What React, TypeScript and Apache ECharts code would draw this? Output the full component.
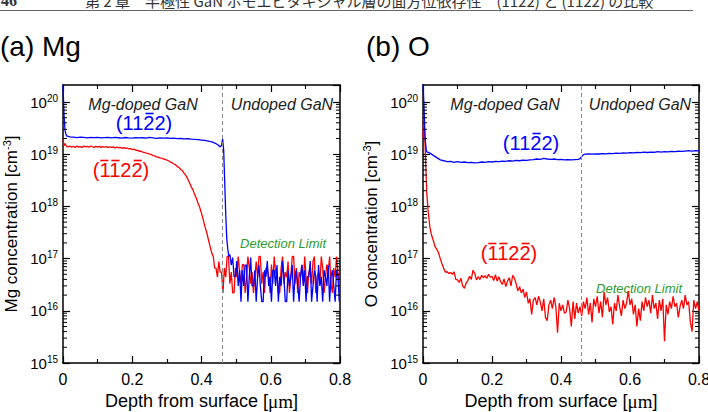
import React, { useEffect, useRef } from "react";
import * as echarts from "echarts";

const SANS = "'Liberation Sans', Arial, Helvetica, sans-serif";
const SERIF = "'Liberation Serif', 'Times New Roman', serif";
const CJK = "'Noto Sans CJK JP', 'Noto Sans CJK SC', sans-serif";

// Axis extents and tick labels
const DEPTH_MIN = 0;
const DEPTH_MAX = 0.8;
const DEPTH_TICKS = [0, 0.2, 0.4, 0.6, 0.8];
const CONC_MIN = 1e15;
const CONC_MAX = 2.12e20;
const DECADE_EXPONENTS = [15, 16, 17, 18, 19, 20];
const MINOR_MANTISSAS = [2, 3, 4, 5, 6, 7, 8, 9];
const INTERFACE_DEPTH = 0.46;

// ---- (a) Mg profiles ----
// (11-22): smooth part as [depth µm, conc cm^-3]
const MG_1122_HEAD: [number, number][] = [
  [0, 2.1e20], [0.003, 5.5e19], [0.006, 2.8e19], [0.01, 2.25e19], [0.02, 2.15e19],
  [0.03, 2.12e19], [0.04, 2.08e19], [0.05, 2.12e19], [0.06, 2.1e19], [0.07, 2.06e19],
  [0.08, 2.1e19], [0.09, 2.08e19], [0.1, 2.1e19], [0.11, 2.05e19], [0.12, 2.08e19],
  [0.13, 2.1e19], [0.14, 2.06e19], [0.15, 2.1e19], [0.16, 2.07e19], [0.17, 2.04e19],
  [0.18, 2.09e19], [0.19, 2.06e19], [0.2, 2.04e19], [0.21, 2.08e19], [0.22, 2.05e19],
  [0.23, 2.07e19], [0.24, 2.03e19], [0.25, 2.1e19], [0.26, 2.05e19], [0.27, 2.02e19],
  [0.28, 2.06e19], [0.29, 2.03e19], [0.3, 2.05e19], [0.31, 2.01e19], [0.32, 2.03e19],
  [0.33, 1.99e19], [0.34, 2.0e19], [0.35, 1.97e19], [0.36, 1.98e19], [0.37, 1.94e19],
  [0.38, 1.93e19], [0.39, 1.9e19], [0.4, 1.87e19], [0.41, 1.84e19], [0.42, 1.78e19],
  [0.43, 1.72e19], [0.44, 1.62e19], [0.448, 1.5e19], [0.454, 1.38e19], [0.458, 1.5e19],
  [0.461, 1.95e19], [0.464, 1.2e19], [0.467, 3e18], [0.47, 7e17], [0.473, 2.4e17],
  [0.476, 1.5e17], [0.479, 1.1e17],
];
// (11-22): undoped-side counts near the detection limit, every 0.004 µm from 0.482 µm
const MG_1122_TAIL_START = 0.482;
const MG_1122_TAIL_STEP = 0.004;
const MG_1122_TAIL = [
  1.2e17, 7.5e16, 1.05e17, 4.5e16, 4.5e16, 9.0e16, 3.0e16, 6.0e16, 1.5e16, 6.0e16,
  3.0e16, 7.5e16, 7.5e16, 1.5e16, 4.5e16, 1.05e17, 3.0e16, 3.0e16, 6.0e16, 1.5e16,
  4.5e16, 7.5e16, 3.0e16, 1.5e16, 1.5e16, 6.0e16, 4.5e16, 9.0e16, 3.0e16, 4.5e16,
  1.5e16, 6.0e16, 6.0e16, 3.0e16, 7.5e16, 1.5e16, 4.5e16, 3.0e16, 9.0e16, 4.5e16,
  1.5e16, 1.5e16, 6.0e16, 3.0e16, 4.5e16, 7.5e16, 1.5e16, 4.5e16, 6.0e16, 3.0e16,
  1.5e16, 4.5e16, 7.5e16, 3.0e16, 6.0e16, 1.5e16, 4.5e16, 4.5e16, 9.0e16, 1.5e16,
  3.0e16, 6.0e16, 4.5e16, 1.5e16, 7.5e16, 3.0e16, 4.5e16, 1.5e16, 6.0e16, 4.5e16,
  3.0e16, 7.5e16, 1.5e16, 4.5e16, 6.0e16, 3.0e16, 1.5e16, 6.0e16, 4.5e16, 1.5e16,
];

// (-1-12-2): roll-off part
const MG_M1122_HEAD: [number, number][] = [
  [0, 1.9e19], [0.003, 1.45e19], [0.006, 1.6e19], [0.01, 1.42e19], [0.015, 1.38e19],
  [0.02, 1.44e19], [0.025, 1.36e19], [0.03, 1.42e19], [0.035, 1.35e19], [0.04, 1.43e19],
  [0.045, 1.37e19], [0.05, 1.41e19], [0.055, 1.34e19], [0.06, 1.44e19], [0.065, 1.38e19],
  [0.07, 1.42e19], [0.075, 1.36e19], [0.08, 1.43e19], [0.085, 1.39e19], [0.09, 1.35e19],
  [0.095, 1.42e19], [0.1, 1.37e19], [0.105, 1.41e19], [0.11, 1.35e19], [0.115, 1.4e19],
  [0.12, 1.36e19], [0.125, 1.41e19], [0.13, 1.34e19], [0.135, 1.39e19], [0.14, 1.35e19],
  [0.145, 1.38e19], [0.15, 1.32e19], [0.155, 1.37e19], [0.16, 1.33e19], [0.165, 1.36e19],
  [0.17, 1.3e19], [0.175, 1.34e19], [0.18, 1.29e19], [0.185, 1.32e19], [0.19, 1.26e19],
  [0.195, 1.28e19], [0.2, 1.23e19], [0.205, 1.25e19], [0.21, 1.19e19], [0.215, 1.2e19],
  [0.22, 1.14e19], [0.225, 1.15e19], [0.23, 1.1e19], [0.235, 1.09e19], [0.24, 1.05e19],
  [0.245, 1.04e19], [0.25, 1.0e19], [0.255, 9.9e18], [0.26, 9.4e18], [0.265, 9.3e18],
  [0.27, 8.9e18], [0.275, 8.8e18], [0.28, 8.5e18], [0.285, 8.4e18], [0.29, 8.1e18],
  [0.295, 8.0e18], [0.3, 7.7e18], [0.305, 7.5e18], [0.31, 7.1e18], [0.315, 6.9e18],
  [0.32, 6.5e18], [0.325, 6.3e18], [0.33, 5.8e18], [0.335, 5.6e18], [0.34, 5.1e18],
  [0.345, 4.8e18], [0.35, 4.3e18], [0.355, 3.9e18], [0.36, 3.4e18], [0.365, 2.9e18],
  [0.37, 2.4e18], [0.375, 2.1e18], [0.38, 1.7e18], [0.385, 1.45e18], [0.39, 1.15e18],
  [0.395, 9.5e17], [0.4, 7.4e17], [0.405, 5.6e17], [0.41, 4.1e17], [0.415, 3.2e17],
  [0.42, 2.3e17], [0.425, 1.7e17], [0.43, 1.26e17],
];
// (-1-12-2): counts near the detection limit, every 0.004 µm from 0.434 µm
const MG_M1122_TAIL_START = 0.434;
const MG_M1122_TAIL_STEP = 0.004;
const MG_M1122_TAIL = [
  1.1e17, 6.6e16, 6.6e16, 4.4e16, 8.8e16, 5.5e16, 5.5e16, 2.2e16, 6.6e16, 4.4e16,
  1.1e17, 1.1e17, 3.3e16, 5.5e16, 2.2e16, 2.2e16, 6.6e16, 4.4e16, 1.1e17, 5.5e16,
  3.3e16, 7.7e16, 7.7e16, 2.2e16, 4.4e16, 1.1e17, 6.6e16, 3.3e16, 5.5e16, 2.2e16,
  4.4e16, 8.8e16, 4.4e16, 1.1e17, 1.1e17, 3.3e16, 5.5e16, 2.2e16, 6.6e16, 6.6e16,
  4.4e16, 2.2e16, 7.7e16, 3.3e16, 1.1e17, 5.5e16, 4.4e16, 2.2e16, 2.2e16, 6.6e16,
  1.1e17, 3.3e16, 5.5e16, 4.4e16, 8.8e16, 2.2e16, 4.4e16, 1.1e17, 1.1e17, 3.3e16,
  6.6e16, 2.2e16, 5.5e16, 4.4e16, 7.7e16, 3.3e16, 1.1e17, 4.4e16, 2.2e16, 5.5e16,
  6.6e16, 3.3e16, 8.8e16, 1.1e17, 2.2e16, 4.4e16, 5.5e16, 3.3e16, 1.1e17, 6.6e16,
  2.2e16, 4.4e16, 7.7e16, 5.5e16, 1.1e17, 3.3e16, 2.2e16, 6.6e16, 4.4e16, 1.1e17,
  5.5e16, 3.3e16,
];

// ---- (b) O profiles ----
const O_1122: [number, number][] = [
  [0, 2.5e20], [0.003, 8e19], [0.006, 2e19], [0.01, 1.12e19], [0.02, 1.05e19],
  [0.03, 9.5e18], [0.04, 8.6e18], [0.05, 7.8e18], [0.06, 7.5e18], [0.07, 7.2e18],
  [0.08, 7.3e18], [0.09, 7.0e18], [0.1, 7.2e18], [0.11, 7.0e18], [0.12, 7.1e18],
  [0.13, 6.9e18], [0.14, 7.0e18], [0.15, 6.8e18], [0.16, 6.9e18], [0.17, 7.1e18],
  [0.18, 7.0e18], [0.19, 7.2e18], [0.2, 7.1e18], [0.21, 7.3e18], [0.22, 7.2e18],
  [0.23, 7.4e18], [0.24, 7.3e18], [0.25, 7.5e18], [0.26, 7.4e18], [0.27, 7.6e18],
  [0.28, 7.5e18], [0.29, 7.7e18], [0.3, 7.6e18], [0.31, 7.8e18], [0.32, 7.9e18],
  [0.33, 8.1e18], [0.34, 8.0e18], [0.35, 8.3e18], [0.36, 8.1e18], [0.37, 8.0e18],
  [0.38, 8.1e18], [0.39, 7.9e18], [0.4, 8.0e18], [0.41, 7.8e18], [0.42, 7.9e18],
  [0.43, 7.8e18], [0.44, 7.9e18], [0.45, 8.0e18], [0.455, 8.2e18], [0.46, 9.0e18],
  [0.465, 9.8e18], [0.47, 1.0e19], [0.48, 1.01e19], [0.49, 1.0e19], [0.5, 1.02e19],
  [0.51, 1.01e19], [0.52, 1.03e19], [0.53, 1.02e19], [0.54, 1.04e19], [0.55, 1.03e19],
  [0.56, 1.05e19], [0.57, 1.04e19], [0.58, 1.06e19], [0.59, 1.05e19], [0.6, 1.07e19],
  [0.61, 1.06e19], [0.62, 1.08e19], [0.63, 1.07e19], [0.64, 1.1e19], [0.65, 1.08e19],
  [0.66, 1.1e19], [0.67, 1.09e19], [0.68, 1.12e19], [0.69, 1.1e19], [0.7, 1.12e19],
  [0.71, 1.11e19], [0.72, 1.13e19], [0.73, 1.12e19], [0.74, 1.14e19], [0.75, 1.13e19],
  [0.76, 1.15e19], [0.77, 1.17e19], [0.78, 1.15e19], [0.79, 1.17e19], [0.8, 1.16e19],
];

const O_M1122_HEAD: [number, number][] = [
  [0, 2.0e19], [0.002, 6.0e19], [0.005, 2.5e19], [0.008, 6e18], [0.011, 1.8e18],
  [0.015, 8e17], [0.02, 4e17], [0.025, 2.8e17], [0.03, 2.2e17], [0.035, 1.7e17],
  [0.04, 1.5e17], [0.045, 1.3e17], [0.05, 1.0e17], [0.055, 8e16], [0.06, 6.5e16],
  [0.065, 5.5e16], [0.07, 5.6e16], [0.075, 5.2e16], [0.08, 5.4e16], [0.085, 5.0e16],
  [0.09, 5.6e16], [0.095, 4.0e16],
];
const O_M1122_TAIL_START = 0.1;
const O_M1122_TAIL_STEP = 0.005;
const O_M1122_TAIL = [
  3.9e16, 3.5e16, 4.2e16, 3.0e16, 2.7e16, 3.4e16, 3.8e16, 4.6e16, 4.0e16, 6.0e16,
  5.2e16, 3.9e16, 4.5e16, 4.0e16, 4.8e16, 4.3e16, 4.7e16, 4.2e16, 5.0e16, 4.4e16,
  4.6e16, 3.8e16, 4.9e16, 3.7e16, 4.5e16, 3.6e16, 3.2e16, 4.1e16, 2.9e16, 3.7e16,
  4.3e16, 3.0e16, 4.8e16, 4.2e16, 3.3e16, 2.4e16, 2.9e16, 2.2e16, 2.6e16, 1.8e16,
  2.3e16, 1.4e16, 1.7e16, 8.5e15, 1.6e16, 1.8e16, 1.3e16, 1.9e16, 1.5e16, 1.0e16,
  1.7e16, 7.5e15, 6.5e15, 1.3e16, 1.6e16, 1.1e16, 1.8e16, 1.2e16, 3.8e15, 1.4e16,
  1.0e16, 1.3e16, 9.0e15, 9.5e15, 1.6e16, 1.1e16, 5.0e15, 1.5e16, 7.0e15, 1.4e16,
  9.0e15, 1.2e16, 8.0e15, 1.5e16, 1.1e16, 1.8e16, 8.5e15, 1.4e16, 6.0e15, 1.7e16,
  1.2e16, 1.9e16, 9.0e15, 1.5e16, 7.5e15, 2.3e16, 1.3e16, 1.8e16, 9.5e15, 1.2e16,
  5.5e15, 1.4e16, 1.0e16, 2.0e16, 1.2e16, 8.0e15, 1.6e16, 1.1e16, 1.4e16, 2.4e16,
  1.3e16, 1.7e16, 8.5e15, 1.3e16, 5.0e15, 1.1e16, 6.5e15, 1.5e16, 1.0e16, 1.8e16,
  1.2e16, 1.6e16, 9.0e15, 2.0e16, 1.1e16, 1.4e16, 7.0e15, 1.6e16, 1.0e16, 1.7e16,
  2.6e15, 1.3e16, 8.5e15, 1.5e16, 1.1e16, 1.9e16, 1.2e16, 1.4e16, 7.5e15, 1.2e16,
  1.6e16, 1.1e16, 2.0e16, 1.3e16, 1.5e16, 6.0e15, 4.0e15, 1.6e16, 1.1e16, 1.5e16,
  1.0e16,
];

const BLUE = "#0000ff";
const RED = "#ff0000";
const GREEN = "#2e9a2e";

const withTail = (head: [number, number][], start: number, step: number, tail: number[]) =>
  head.concat(tail.map((v, i) => [start + i * step, v] as [number, number]));

const minorTickData = DECADE_EXPONENTS.slice(0, -1).flatMap((e) =>
  MINOR_MANTISSAS.map((m) => [0, m * Math.pow(10, e)])
);

const GRIDS = [
  { left: 63, top: 85, width: 277, height: 278, containLabel: false, outerBoundsMode: "none" },
  { left: 423, top: 85, width: 276, height: 278, containLabel: false, outerBoundsMode: "none" },
];

const axisLine = { show: true, onZero: false, lineStyle: { color: "#000", width: 1.5 } };
const tickStyle = { color: "#000", width: 1.2 };

function xAxes(gridIndex: number) {
  const base = {
    type: "value" as const,
    gridIndex,
    min: DEPTH_MIN,
    max: DEPTH_MAX,
    interval: 0.2,
    axisLine,
    axisTick: { show: true, inside: true, length: 7, lineStyle: tickStyle },
    minorTick: { show: true, splitNumber: 2, length: 4, lineStyle: tickStyle },
    splitLine: { show: false },
    minorSplitLine: { show: false },
  };
  return [
    {
      ...base,
      position: "bottom",
      axisLabel: {
        show: true,
        color: "#000",
        fontSize: 16,
        fontFamily: SANS,
        margin: 8,
        showMinLabel: true,
        showMaxLabel: true,
        formatter: (v: number) => {
          const t = DEPTH_TICKS.find((d) => Math.abs(d - v) < 1e-9);
          return t === undefined ? "" : String(t);
        },
      },
      name: "{t|Depth from surface [}{mu|μm}{t|]}",
      nameLocation: "middle",
      nameGap: 28,
      nameTextStyle: {
        rich: {
          t: { fontSize: 18, fontFamily: SANS, color: "#000", lineHeight: 20 },
          mu: { fontSize: 19, fontFamily: SERIF, color: "#000", lineHeight: 20 },
        },
      },
    },
    { ...base, position: "top", axisLabel: { show: false } },
  ];
}

function yAxes(gridIndex: number, element: string) {
  const base = {
    type: "log" as const,
    logBase: 10,
    gridIndex,
    min: CONC_MIN,
    max: CONC_MAX,
    axisLine,
    axisTick: { show: true, inside: true, length: 7, lineStyle: tickStyle },
    minorTick: { show: false },
    splitLine: { show: false },
  };
  return [
    {
      ...base,
      position: "left",
      axisLabel: {
        show: true,
        margin: 5,
        showMaxLabel: false,
        formatter: (v: number) => {
          const e = Math.log10(v);
          const exp = DECADE_EXPONENTS.find((d) => Math.abs(d - e) < 1e-6);
          return exp === undefined ? "" : `{b|10}{s|${exp}}`;
        },
        rich: {
          b: { fontSize: 15, fontFamily: SANS, color: "#000", lineHeight: 18 },
          s: { fontSize: 10, fontFamily: SANS, color: "#000", lineHeight: 10, verticalAlign: "top" },
        },
      },
      name: `{b|${element} concentration [cm}{s|-3}{b|]}`,
      nameLocation: "middle",
      nameRotate: 90,
      nameGap: 42,
      nameTextStyle: {
        rich: {
          b: { fontSize: 17, fontFamily: SANS, color: "#000", lineHeight: 20 },
          s: { fontSize: 11, fontFamily: SANS, color: "#000", lineHeight: 11, verticalAlign: "top" },
        },
      },
    },
    { ...base, position: "right", axisLabel: { show: false } },
  ];
}

function profileLine(data: [number, number][], color: string, axisIdx: number, z: number) {
  return {
    type: "line",
    xAxisIndex: axisIdx,
    yAxisIndex: axisIdx,
    data,
    showSymbol: false,
    symbol: "none",
    clip: true,
    z,
    lineStyle: { color, width: 1.3 },
    itemStyle: { color },
  };
}

function interfaceMark(axisIdx: number) {
  return {
    type: "line",
    xAxisIndex: axisIdx,
    yAxisIndex: axisIdx,
    data: [],
    silent: true,
    z: 1,
    markLine: {
      silent: true,
      symbol: ["none", "none"],
      label: { show: false },
      lineStyle: { color: "#8a8a8a", type: [4, 3], width: 1 },
      data: [{ xAxis: INTERFACE_DEPTH }],
    },
  };
}

function minorTicks(axisIdx: number) {
  return {
    type: "custom",
    xAxisIndex: axisIdx,
    yAxisIndex: axisIdx,
    silent: true,
    z: 6,
    data: minorTickData,
    renderItem: (params: any, api: any) => {
      const pt = api.coord([0, api.value(1)]);
      const cs = params.coordSys;
      const s = { stroke: "#000", lineWidth: 1 };
      return {
        type: "group",
        children: [
          { type: "line", shape: { x1: cs.x, y1: pt[1], x2: cs.x + 4, y2: pt[1] }, style: s },
          {
            type: "line",
            shape: { x1: cs.x + cs.width - 4, y1: pt[1], x2: cs.x + cs.width, y2: pt[1] },
            style: s,
          },
        ],
      };
    },
  };
}

// Miller-index label such as (11-22) with bars over the negative indices
function millerIndex(cx: number, cy: number, digits: string, barred: boolean[], color: string) {
  const fs = 20;
  const paren = 0.333 * fs;
  const digit = 0.556 * fs;
  const left = cx - (2 * paren + digits.length * digit) / 2;
  const children: any[] = [
    {
      type: "text",
      x: cx,
      y: cy,
      style: {
        text: `(${digits})`,
        fill: color,
        fontSize: fs,
        fontFamily: SANS,
        textAlign: "center",
        textVerticalAlign: "middle",
      },
    },
  ];
  barred.forEach((b, i) => {
    if (!b) return;
    const x0 = left + paren + i * digit;
    children.push({
      type: "line",
      shape: { x1: x0 + 1.5, y1: cy - 9.5, x2: x0 + digit - 1.5, y2: cy - 9.5 },
      style: { stroke: color, lineWidth: 1.6 },
    });
  });
  return { type: "group", children };
}

function label(x: number, y: number, text: string, opts: any) {
  return {
    type: "text",
    x,
    y,
    style: { text, textAlign: "center", textVerticalAlign: "middle", ...opts },
  };
}

export default function App() {
  const ref = useRef<HTMLDivElement>(null);

  useEffect(() => {
    if (!ref.current) return;
    const chart = echarts.init(ref.current, undefined, { renderer: "svg" });

    const regionStyle = { fontSize: 16, fontStyle: "italic", fontFamily: SANS, fill: "#222" };
    const limitStyle = { fontSize: 13, fontStyle: "italic", fontFamily: SANS, fill: GREEN };

    chart.setOption({
      animation: false,
      backgroundColor: "#fff",
      textStyle: { fontFamily: SANS },
      grid: GRIDS,
      xAxis: [...xAxes(0), ...xAxes(1)],
      yAxis: [...yAxes(0, "Mg"), ...yAxes(1, "O")],
      series: [
        interfaceMark(0),
        profileLine(withTail(MG_M1122_HEAD, MG_M1122_TAIL_START, MG_M1122_TAIL_STEP, MG_M1122_TAIL), RED, 0, 2),
        profileLine(withTail(MG_1122_HEAD, MG_1122_TAIL_START, MG_1122_TAIL_STEP, MG_1122_TAIL), BLUE, 0, 3),
        minorTicks(0),
        interfaceMark(2),
        profileLine(withTail(O_M1122_HEAD, O_M1122_TAIL_START, O_M1122_TAIL_STEP, O_M1122_TAIL), RED, 2, 2),
        profileLine(O_1122, BLUE, 2, 3),
        minorTicks(2),
      ],
      graphic: [
        // running header of the page
        label(9, 0, "46", { fontSize: 16, fontFamily: SERIF, fontWeight: "bold", fill: "#333" }),
        {
          type: "text",
          x: 85,
          y: 0,
          style: {
            text: "第 2 章　半極性 GaN ホモエピタキシャル層の面方位依存性　(1122) と (1122) の比較",
            fontSize: 15,
            fontFamily: CJK,
            fill: "#333",
            textAlign: "left",
            textVerticalAlign: "middle",
          },
        },
        {
          type: "line",
          shape: { x1: 0, y1: 10.5, x2: 693, y2: 10.5 },
          style: { stroke: "#666", lineWidth: 1 },
        },
        // panel titles
        { type: "text", x: 0, y: 46, style: { text: "(a) Mg", fontSize: 28, fontFamily: SANS, fill: "#000", textVerticalAlign: "middle" } },
        { type: "text", x: 366, y: 46, style: { text: "(b) O", fontSize: 28, fontFamily: SANS, fill: "#000", textVerticalAlign: "middle" } },
        // layer labels
        label(143, 104, "Mg-doped GaN", regionStyle),
        label(282, 104, "Undoped GaN", regionStyle),
        label(505, 104, "Mg-doped GaN", regionStyle),
        label(640, 104, "Undoped GaN", regionStyle),
        label(283, 243, "Detection Limit", limitStyle),
        label(639, 288, "Detection Limit", limitStyle),
        // orientation labels
        millerIndex(144, 123, "1122", [false, false, true, false], BLUE),
        millerIndex(121, 170, "1122", [true, true, false, true], RED),
        millerIndex(531, 143, "1122", [false, false, true, false], BLUE),
        millerIndex(509, 253, "1122", [true, true, false, true], RED),
      ],
    });

    return () => chart.dispose();
  }, []);

  return (
    <div
      ref={ref}
      style={{ position: "fixed", left: 0, top: 0, width: 708, height: 412, background: "#fff" }}
    />
  );
}
